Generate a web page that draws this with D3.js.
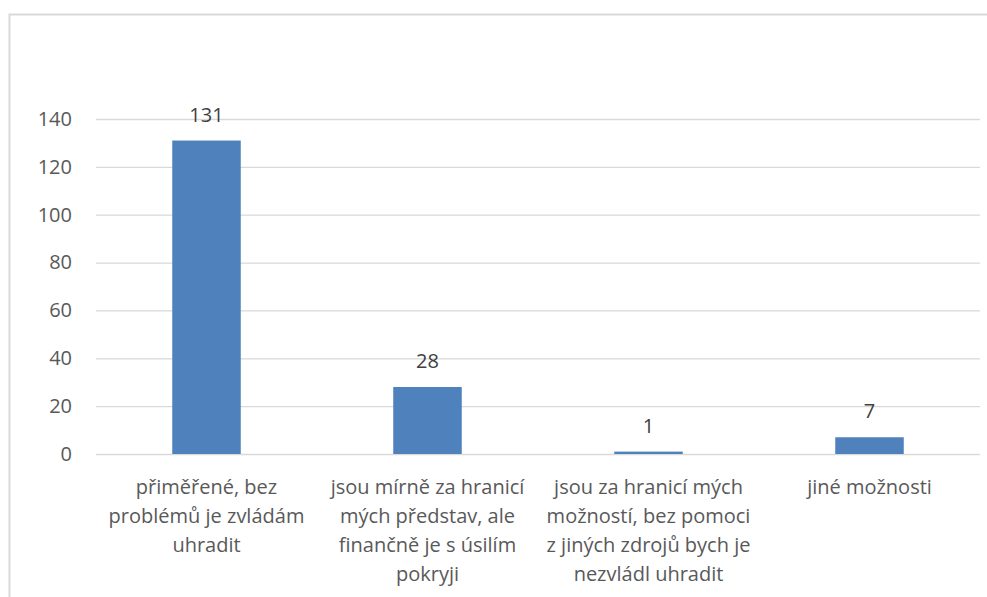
<!DOCTYPE html>
<html>
<head>
<meta charset="utf-8">
<script src="https://cdn.jsdelivr.net/npm/d3@7"></script>
<style>
  body { margin: 0; background: #fff; }
  text { font-family: "Open Sans", "Noto Sans", sans-serif; }
</style>
</head>
<body>
<div id="chart"></div>
<script>
// category labels, already broken into lines like in the original
var categories = [
    "přiměřené, bez\nproblémů je zvládám\nuhradit",
    "jsou mírně za hranicí\nmých představ, ale\nfinančně je s úsilím\npokryji",
    "jsou za hranicí mých\nmožností, bez pomoci\nz jiných zdrojů bych je\nnezvládl uhradit",
    "jiné možnosti"
];
var values = [131, 28, 1, 7];
var yTicks = [0, 20, 40, 60, 80, 100, 120, 140];

drawChart();

function drawChart() {
    var W = 987, H = 597;
    var margin = { top: 119, right: 7, bottom: 143, left: 96 };
    var width = W - margin.left - margin.right;
    var height = H - margin.top - margin.bottom;
    var fs = "20px";

    var svg = d3.select("#chart").append("svg")
        .attr("width", W)
        .attr("height", H);

    // chart frame, runs off the right and bottom edges
    svg.append("rect")
        .attr("x", 9.5).attr("y", 14.5)
        .attr("width", 1200).attr("height", 1200)
        .attr("fill", "none")
        .attr("stroke", "#d9d9d9")
        .attr("stroke-width", 2);

    var g = svg.append("g")
        .attr("transform", "translate(" + margin.left + "," + margin.top + ")");

    var x = d3.scaleBand()
        .domain(categories)
        .range([0, width])
        .paddingInner(0.69)
        .paddingOuter(0.345);

    var y = d3.scaleLinear()
        .domain([0, 140])
        .range([height, 0]);

    // gridlines
    g.append("g")
        .call(d3.axisLeft(y).tickValues(yTicks).tickSize(-width).tickFormat(""))
        .call(function(a) {
            a.select(".domain").remove();
            a.selectAll("line").attr("stroke", "#d9d9d9").attr("stroke-width", 1.3);
        });

    // y tick labels
    g.append("g")
        .call(d3.axisLeft(y).tickValues(yTicks).tickSize(0).tickPadding(24))
        .call(function(a) {
            a.select(".domain").remove();
            a.selectAll("text")
                .attr("fill", "#595959")
                .style("font-size", fs);
        });

    g.selectAll(".bar")
        .data(values)
        .enter().append("rect")
        .attr("class", "bar")
        .attr("x", function(d, i) { return x(categories[i]); })
        .attr("y", function(d) { return y(d); })
        .attr("width", x.bandwidth())
        .attr("height", function(d) { return height - y(d); })
        .attr("fill", "#4f81bd");

    g.selectAll(".val")
        .data(values)
        .enter().append("text")
        .attr("class", "val")
        .attr("x", function(d, i) { return x(categories[i]) + x.bandwidth() / 2; })
        .attr("y", function(d) { return y(d) - 19; })
        .attr("text-anchor", "middle")
        .attr("fill", "#404040")
        .style("font-size", fs)
        .text(function(d) { return d; });

    // category labels
    var labels = g.selectAll(".cat")
        .data(categories)
        .enter().append("text")
        .attr("class", "cat")
        .attr("text-anchor", "middle")
        .attr("fill", "#595959")
        .style("font-size", fs)
        .attr("transform", function(d) {
            return "translate(" + (x(d) + x.bandwidth() / 2) + "," + (height + 40) + ")";
        });
    labels.selectAll("tspan")
        .data(function(d) { return d.split("\n"); })
        .enter().append("tspan")
        .attr("x", 0)
        .attr("dy", function(d, i) { return i == 0 ? 0 : 29; })
        .text(function(d) { return d; });
}
</script>
</body>
</html>
